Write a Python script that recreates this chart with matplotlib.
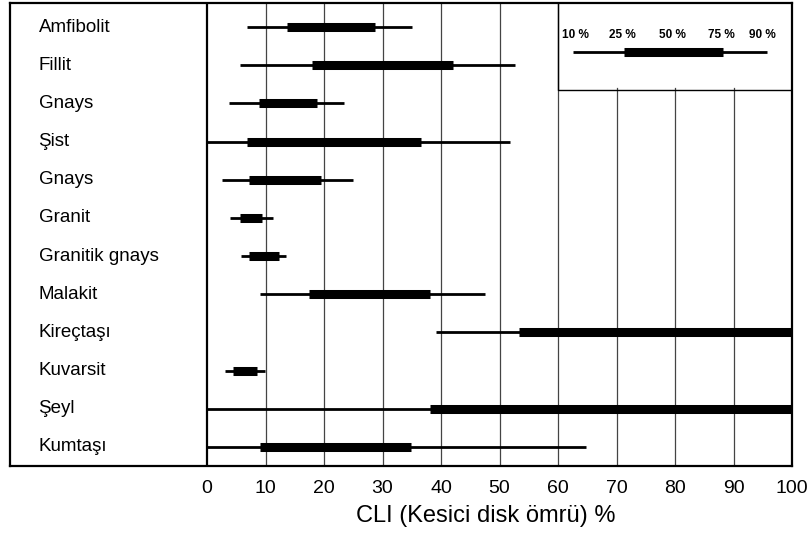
import matplotlib.pyplot as plt
import numpy as np

plt.rcParams['font.family'] = ['Liberation Sans', 'DejaVu Sans']

rocks = ['Amfibolit', 'Fillit', 'Gnays', 'Şist', 'Gnays', 'Granit', 'Granitik gnays',
         'Malakit', 'Kireçtaşı', 'Kuvarsit', 'Şeyl', 'Kumtaşı']
p10 = [6.8, 5.6, 3.8, 0.0, 2.6, 3.9, 5.8, 9.1, 39.2, 3.1, 0.0, 0.0]
p25 = [13.7, 17.9, 8.9, 6.8, 7.2, 5.6, 7.2, 17.4, 53.3, 4.5, 38.2, 9.0]
p75 = [28.7, 42.0, 18.8, 36.6, 19.5, 9.4, 12.3, 38.1, 100.0, 8.5, 100.0, 34.9]
p90 = [35.0, 52.6, 23.4, 51.8, 25.0, 11.3, 13.5, 47.5, 100.0, 9.9, 100.0, 64.7]

legend_pct = ['10 %', '25 %', '50 %', '75 %', '90 %']
legend_pos = [63, 71, 79.5, 88, 95]   # where the legend labels sit (x data units)

fig = plt.figure(figsize=(8.08, 5.36), dpi=100)
ax = fig.add_axes([10/808, (536-466)/536, (792-10)/808, (466-3)/536])

n = len(rocks)
y = np.arange(n)
ax.set_xlim(-33.68, 100)
ax.set_ylim(n - 0.5, -0.63)

# grid lines, 70-90 stop under the legend box
leg_bottom = 0.816
for g in range(10, 100, 10):
    top = leg_bottom if g > 60 else 1
    ax.axvline(g, ymin=0, ymax=top, color='#444444', lw=0.9, zorder=1)
ax.axvline(0, color='black', lw=1.6, zorder=3)

for i in range(n):
    ax.plot([p10[i], p90[i]], [y[i], y[i]], color='black', lw=2.0,
            solid_capstyle='butt', zorder=4)
    ax.plot([p25[i], p75[i]], [y[i], y[i]], color='black', lw=6.5,
            solid_capstyle='butt', zorder=5)
    ax.text(-28.8, y[i], rocks[i], fontsize=13.5, va='center', ha='left')

# legend box
ax.plot([60, 60, 100], [-0.63, 1.64, 1.64], color='black', lw=1.0, zorder=3)
ly = 0.66
ax.plot([62.6, 95.7], [ly, ly], color='black', lw=2.0, solid_capstyle='butt', zorder=4)
ax.plot([71.2, 88.2], [ly, ly], color='black', lw=6.5, solid_capstyle='butt', zorder=5)
for lab, xp in zip(legend_pct, legend_pos):
    ax.text(xp, 0.2, lab, fontsize=8.5, ha='center', va='center', fontweight='bold')

for s in ax.spines.values():
    s.set_linewidth(1.6)

ax.set_yticks([])
ax.set_xticks(np.arange(0, 101, 10))
ax.tick_params(axis='x', length=0, pad=10, labelsize=14)
ax.set_xlabel('CLI (Kesici disk ömrü) %', fontsize=17, labelpad=6, x=0.609)

fig.savefig('out.png', dpi=100)
